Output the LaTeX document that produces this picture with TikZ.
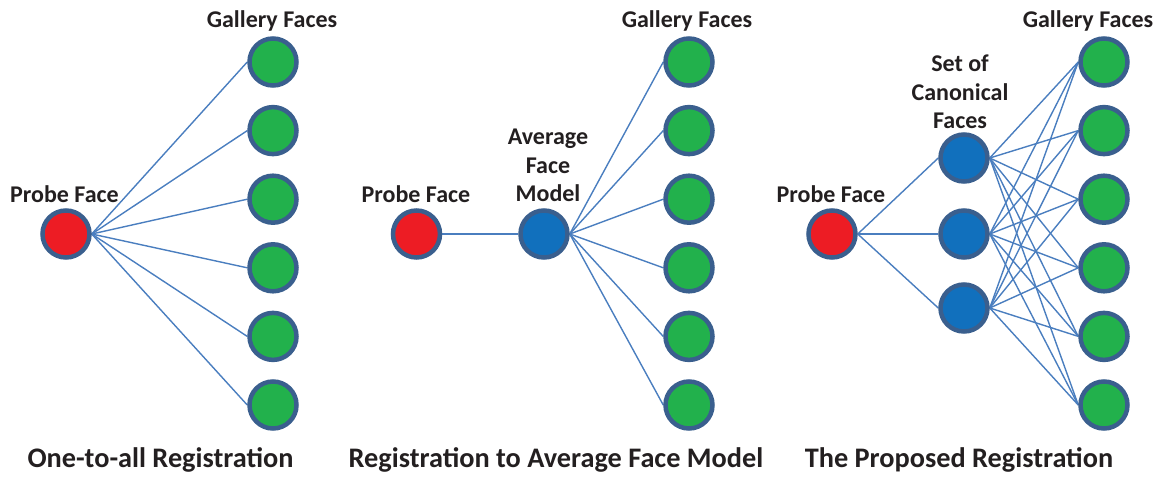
\documentclass[tikz,border=0pt]{standalone}
\usepackage{fontspec}
\setmainfont{Carlito}
\usetikzlibrary{backgrounds}
\definecolor{facebd}{HTML}{3A5F8E}
\definecolor{probered}{HTML}{ED1C24}
\definecolor{galgreen}{HTML}{22B14C}
\definecolor{canblue}{HTML}{1170BD}
\definecolor{linkblue}{HTML}{4A7EBF}
\definecolor{txt}{HTML}{231F20}
\begin{document}
\begin{tikzpicture}[x=1pt,y=-1pt,
  face/.style={circle,draw=facebd,line width=4.5pt,minimum size=47pt,inner sep=0pt},
  probe/.style={face,fill=probered},
  gal/.style={face,fill=galgreen},
  canon/.style={face,fill=canblue},
  link/.style={draw=linkblue,line width=1.4pt},
  lbl/.style={font=\bfseries\fontsize{24}{28.5}\selectfont,text=txt,inner sep=0pt,text depth=0pt,anchor=south,align=center},
  captxt/.style={font=\bfseries\fontsize{28.3}{30}\selectfont,text=txt,inner sep=0pt,text depth=0pt,anchor=south}]
\useasboundingbox (0,0) rectangle (1163,477);
% panel 1
\node[probe] (p1) at (66,234) {};
\foreach \i/\y in {1/62,2/130.6,3/199.2,4/267.8,5/336.4,6/405}
  \node[gal] (g1\i) at (273,\y) {};
% panel 2
\node[probe] (p2) at (416.5,234) {};
\node[canon] (a2) at (544,234) {};
\foreach \i/\y in {1/62,2/130.6,3/199.2,4/267.8,5/336.4,6/405}
  \node[gal] (g2\i) at (689,\y) {};
% panel 3
\node[probe] (p3) at (832,234) {};
\node[canon] (c31) at (964,158) {};
\node[canon] (c32) at (964,234) {};
\node[canon] (c33) at (964,308) {};
\foreach \i/\y in {1/62,2/130.6,3/199.2,4/267.8,5/336.4,6/405}
  \node[gal] (g3\i) at (1104,\y) {};
% connectors
\begin{scope}[on background layer]
  \foreach \i in {1,...,6} {
    \draw[link] (p1.east) -- (g1\i.west);
    \draw[link] (a2.east) -- (g2\i.west);
    \foreach \c in {1,2,3}
      \draw[link] (c3\c.east) -- (g3\i.west);
  }
  \draw[link] (p2.east) -- (a2.west);
  \foreach \c in {1,2,3}
    \draw[link] (p3.east) -- (c3\c.west);
\end{scope}
% labels
\node[lbl] (lg1) at (272,28) {Gallery Faces};
\node[lbl] (lg2) at (687,28) {Gallery Faces};
\node[lbl] (lg3) at (1088,28) {Gallery Faces};
\node[lbl] (lp1) at (64.5,203) {Probe Face};
\node[lbl] (lp2) at (416,203) {Probe Face};
\node[lbl] (lp3) at (831,203) {Probe Face};
\node[lbl] (la2) at (548,202) {Average\\Face\\Model};
\node[lbl] (lc3) at (960,129) {Set of\\Canonical\\Faces};
% captions
\node[captxt] (cap1) at (160.5,468) {One-to-all Registration};
\node[captxt] (cap2) at (556,468) {Registration to Average Face Model};
\node[captxt] (cap3) at (959,468) {The Proposed Registration};
\end{tikzpicture}
\end{document}
